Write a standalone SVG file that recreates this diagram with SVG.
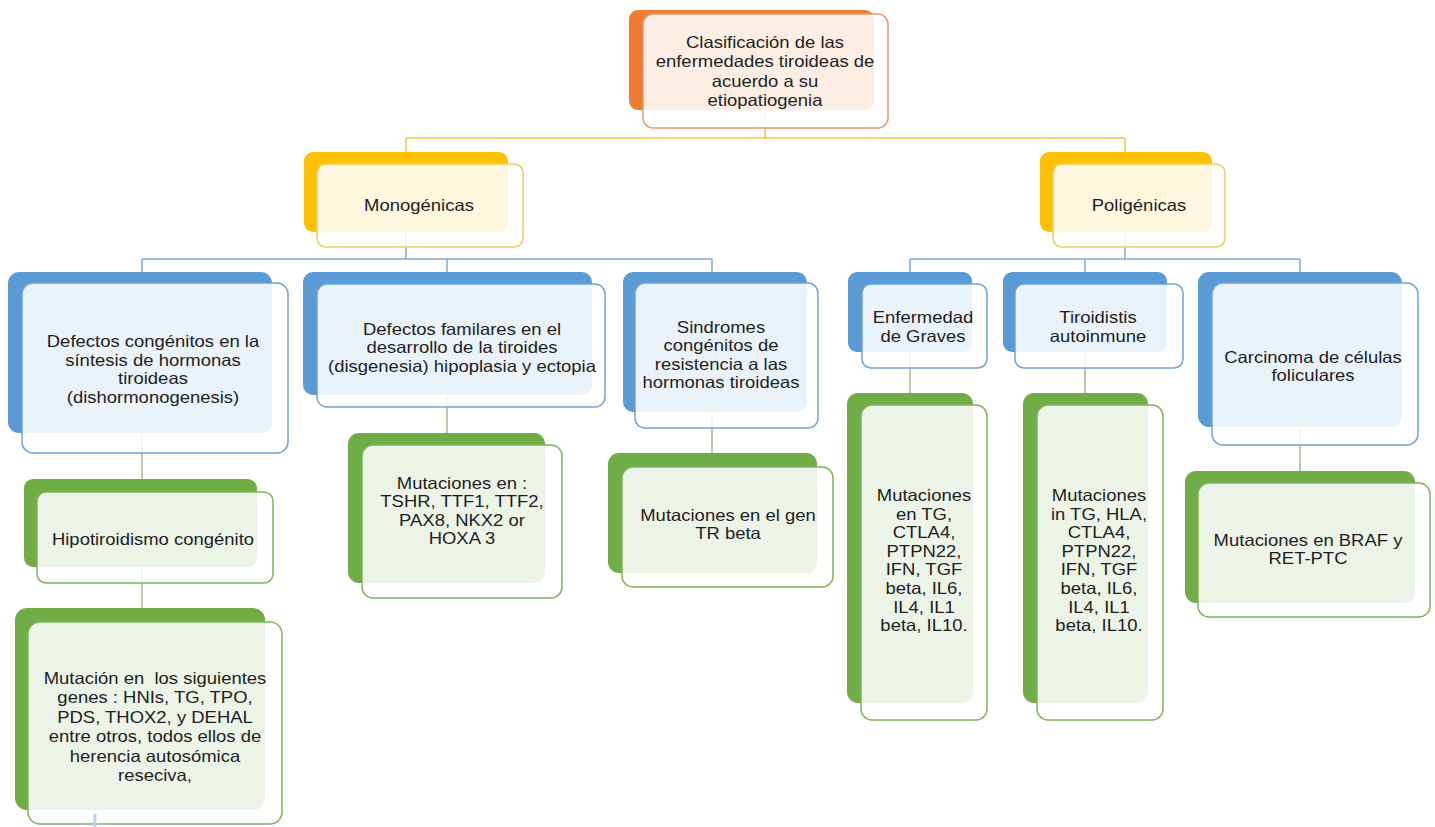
<svg xmlns="http://www.w3.org/2000/svg" width="1435" height="827" viewBox="0 0 1435 827">
<style>
  .bg{fill:#ffffff}
  .bk{stroke:none}
  .fr{fill:#ffffff;fill-opacity:0.87;stroke-width:1.5}
  .o .bk{fill:#ED7D31} .o .fr{stroke:#E59A6B}
  .y .bk{fill:#FFC000} .y .fr{stroke:#EFCB62}
  .b .bk{fill:#5B9BD5} .b .fr{stroke:#6FA3D6}
  .g .bk{fill:#70AD47} .g .fr{stroke:#7FB35B}
  text{font-family:"Liberation Sans",Arial,sans-serif;font-size:16.5px;fill:#1e1e1e;text-anchor:middle;white-space:pre}
  .cy{stroke:#F5C342;stroke-width:1.5;fill:none}
  .cb{stroke:#86A6D3;stroke-width:1.5;fill:none}
  .cg{stroke:#A2B892;stroke-width:1.5;fill:none}
</style>
<rect class="bg" x="0" y="0" width="1435" height="827"/>
<g id="connectors">
  <path class="cy" d="M765,100 V138 M406,138 H1125 M406,138 V160 M1125,138 V160"/>
  <path class="cb" d="M406,200 V259 M142,259 H712 M142,259 V280 M447,259 V280 M712,259 V280"/>
  <path class="cb" d="M1125,200 V259 M910,259 H1300 M910,259 V280 M1085,259 V280 M1300,259 V280"/>
  <path class="cg" d="M142,400 V485 M142,560 V615 M447,380 V440 M712,380 V460 M910,340 V400 M1085,340 V400 M1300,400 V478"/>
</g>
<g id="n-root" class="o">
  <rect class="bk" x="629" y="10" width="245" height="100" rx="9"/>
  <rect class="fr" x="643" y="14" width="245" height="114" rx="10"/>
  <text transform="matrix(1.12 0 0 1 765 0)"><tspan x="0" y="48">Clasificación de las</tspan><tspan x="0" y="67.5">enfermedades tiroideas de</tspan><tspan x="0" y="87">acuerdo a su</tspan><tspan x="0" y="106.5">etiopatiogenia</tspan></text>
</g>
<g id="n-mono" class="y">
  <rect class="bk" x="304" y="152" width="204" height="80" rx="9"/>
  <rect class="fr" x="317" y="164" width="206" height="83" rx="9"/>
  <text transform="matrix(1.12 0 0 1 419 0)" x="0" y="211">Monogénicas</text>
</g>
<g id="n-poli" class="y">
  <rect class="bk" x="1040" y="152" width="172" height="80" rx="9"/>
  <rect class="fr" x="1053" y="164" width="172" height="83" rx="9"/>
  <text transform="matrix(1.12 0 0 1 1139 0)" x="0" y="211">Poligénicas</text>
</g>
<g id="n-dishormo" class="b">
  <rect class="bk" x="8" y="272" width="264" height="161" rx="11"/>
  <rect class="fr" x="22" y="283" width="266" height="170" rx="11"/>
  <text transform="matrix(1.12 0 0 1 153 0)"><tspan x="0" y="347.5">Defectos congénitos en la</tspan><tspan x="0" y="366">síntesis de hormonas</tspan><tspan x="0" y="384.5">tiroideas</tspan><tspan x="0" y="403">(dishormonogenesis)</tspan></text>
</g>
<g id="n-disgen" class="b">
  <rect class="bk" x="303" y="272" width="289" height="123" rx="10"/>
  <rect class="fr" x="317" y="284" width="288" height="123" rx="10"/>
  <text transform="matrix(1.12 0 0 1 462 0)"><tspan x="0" y="335">Defectos familares en el</tspan><tspan x="0" y="353.5">desarrollo de la tiroides</tspan><tspan x="0" y="372">(disgenesia) hipoplasia y ectopia</tspan></text>
</g>
<g id="n-sind" class="b">
  <rect class="bk" x="623" y="272" width="184" height="140" rx="10"/>
  <rect class="fr" x="635" y="283" width="183" height="145" rx="10"/>
  <text transform="matrix(1.12 0 0 1 721 0)"><tspan x="0" y="333">Sindromes</tspan><tspan x="0" y="351.5">congénitos de</tspan><tspan x="0" y="370">resistencia a las</tspan><tspan x="0" y="388.5">hormonas tiroideas</tspan></text>
</g>
<g id="n-graves" class="b">
  <rect class="bk" x="848" y="272" width="124" height="80" rx="9"/>
  <rect class="fr" x="862" y="284" width="125" height="84" rx="9"/>
  <text transform="matrix(1.12 0 0 1 923 0)"><tspan x="0" y="323">Enfermedad</tspan><tspan x="0" y="342">de Graves</tspan></text>
</g>
<g id="n-tiroid" class="b">
  <rect class="bk" x="1003" y="272" width="164" height="80" rx="9"/>
  <rect class="fr" x="1015" y="284" width="168" height="84" rx="9"/>
  <text transform="matrix(1.12 0 0 1 1098 0)"><tspan x="0" y="323">Tiroidistis</tspan><tspan x="0" y="342">autoinmune</tspan></text>
</g>
<g id="n-carc" class="b">
  <rect class="bk" x="1198" y="272" width="204" height="155" rx="11"/>
  <rect class="fr" x="1212" y="283" width="206" height="162" rx="11"/>
  <text transform="matrix(1.12 0 0 1 1313 0)"><tspan x="0" y="363">Carcinoma de células</tspan><tspan x="0" y="381.5">foliculares</tspan></text>
</g>
<g id="n-hipo" class="g">
  <rect class="bk" x="24" y="479" width="233" height="88" rx="9"/>
  <rect class="fr" x="37" y="492" width="236" height="91" rx="9"/>
  <text transform="matrix(1.12 0 0 1 153 0)" x="0" y="545">Hipotiroidismo congénito</text>
</g>
<g id="n-mutdis" class="g">
  <rect class="bk" x="15" y="608" width="250" height="202" rx="12"/>
  <rect class="fr" x="28" y="622" width="254" height="202" rx="12"/>
  <text transform="matrix(1.12 0 0 1 155 0)"><tspan x="0" y="684">Mutación en  los siguientes</tspan><tspan x="0" y="703.4">genes : HNIs, TG, TPO,</tspan><tspan x="0" y="722.8">PDS, THOX2, y DEHAL</tspan><tspan x="0" y="742.2">entre otros, todos ellos de</tspan><tspan x="0" y="761.6">herencia autosómica</tspan><tspan x="0" y="781">reseciva,</tspan></text>
</g>
<g id="n-mutdisg" class="g">
  <rect class="bk" x="348" y="433" width="197" height="150" rx="11"/>
  <rect class="fr" x="362" y="445" width="200" height="153" rx="11"/>
  <text transform="matrix(1.12 0 0 1 462 0)"><tspan x="0" y="489">Mutaciones en :</tspan><tspan x="0" y="507.5">TSHR, TTF1, TTF2,</tspan><tspan x="0" y="526">PAX8, NKX2 or</tspan><tspan x="0" y="544.5">HOXA 3</tspan></text>
</g>
<g id="n-trbeta" class="g">
  <rect class="bk" x="608" y="453" width="209" height="120" rx="11"/>
  <rect class="fr" x="622" y="467" width="211" height="120" rx="11"/>
  <text transform="matrix(1.12 0 0 1 728 0)"><tspan x="0" y="521">Mutaciones en el gen</tspan><tspan x="0" y="539.5">TR beta</tspan></text>
</g>
<g id="n-mutgraves" class="g">
  <rect class="bk" x="847" y="393" width="126" height="310" rx="11"/>
  <rect class="fr" x="861" y="405" width="126" height="315" rx="11"/>
  <text transform="matrix(1.12 0 0 1 924 0)"><tspan x="0" y="501">Mutaciones</tspan><tspan x="0" y="519.6">en TG,</tspan><tspan x="0" y="538.2">CTLA4,</tspan><tspan x="0" y="556.8">PTPN22,</tspan><tspan x="0" y="575.4">IFN, TGF</tspan><tspan x="0" y="594">beta, IL6,</tspan><tspan x="0" y="612.6">IL4, IL1</tspan><tspan x="0" y="631.2">beta, IL10.</tspan></text>
</g>
<g id="n-muttiroid" class="g">
  <rect class="bk" x="1023" y="393" width="125" height="310" rx="11"/>
  <rect class="fr" x="1037" y="405" width="126" height="315" rx="11"/>
  <text transform="matrix(1.12 0 0 1 1099 0)"><tspan x="0" y="501">Mutaciones</tspan><tspan x="0" y="519.6">in TG, HLA,</tspan><tspan x="0" y="538.2">CTLA4,</tspan><tspan x="0" y="556.8">PTPN22,</tspan><tspan x="0" y="575.4">IFN, TGF</tspan><tspan x="0" y="594">beta, IL6,</tspan><tspan x="0" y="612.6">IL4, IL1</tspan><tspan x="0" y="631.2">beta, IL10.</tspan></text>
</g>
<g id="n-braf" class="g">
  <rect class="bk" x="1185" y="471" width="230" height="132" rx="11"/>
  <rect class="fr" x="1198" y="483" width="232" height="134" rx="11"/>
  <text transform="matrix(1.12 0 0 1 1308 0)"><tspan x="0" y="546">Mutaciones en BRAF y</tspan><tspan x="0" y="564.5">RET-PTC</tspan></text>
</g>
<g id="connectors-offpage">
  <path d="M95,814 V827" stroke="#BFD1EC" stroke-width="3" fill="none"/>
</g>
</svg>
